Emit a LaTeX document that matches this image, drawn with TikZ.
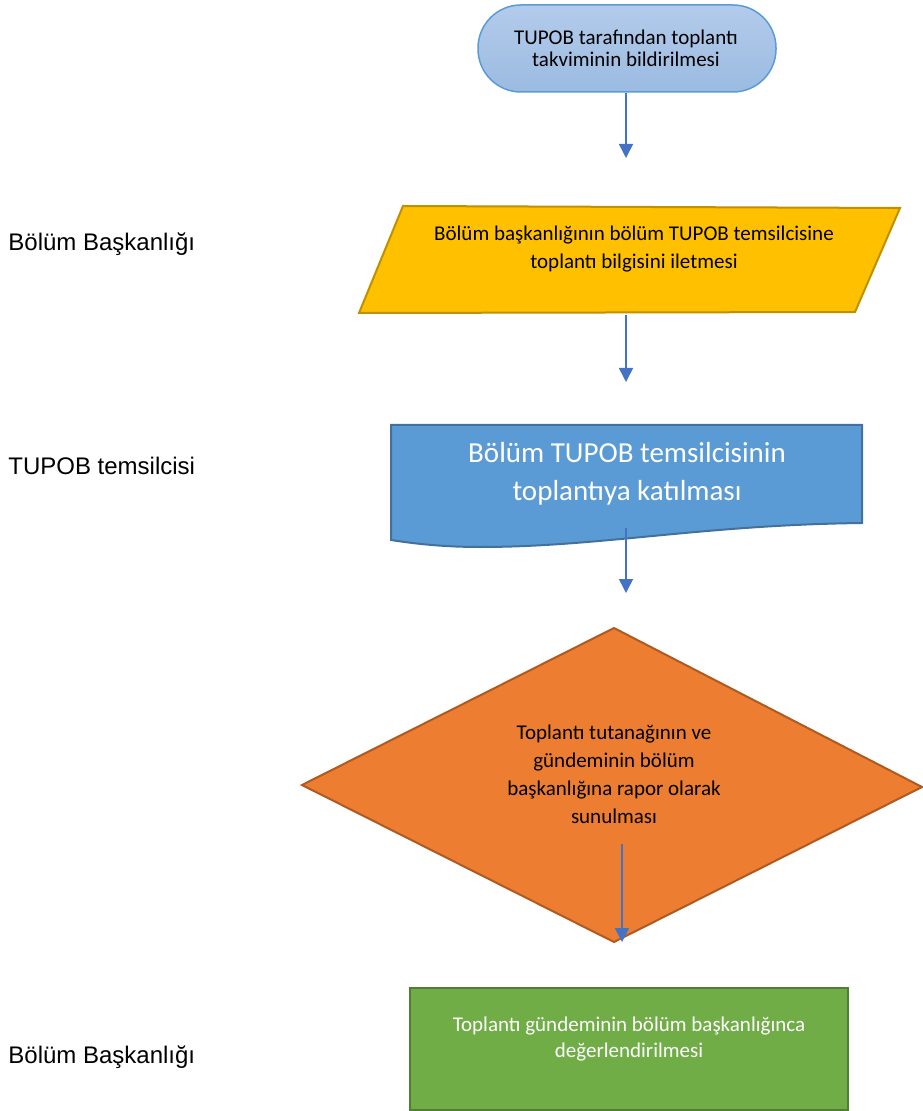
\documentclass[tikz,border=0pt]{standalone}
\usepackage{fontspec}
\setmainfont{Carlito}
\newfontfamily\labelfont{Liberation Sans}
\usetikzlibrary{arrows.meta}
\definecolor{okmavi}{HTML}{4472C4}
\definecolor{termust}{HTML}{B3CBEB}
\definecolor{termalt}{HTML}{9BBBE1}
\definecolor{termcizgi}{HTML}{5B9BD5}
\definecolor{altin}{HTML}{FFC000}
\definecolor{altincizgi}{HTML}{BF9000}
\definecolor{belgemavi}{HTML}{5B9BD5}
\definecolor{belgecizgi}{HTML}{41719C}
\definecolor{turuncu}{HTML}{ED7D31}
\definecolor{turuncucizgi}{HTML}{AE5A21}
\definecolor{yesil}{HTML}{70AD47}
\definecolor{yesilcizgi}{HTML}{507E32}
\tikzset{
  akis/.style={draw=okmavi, line width=0.75pt, -{Triangle[width=7pt,length=7pt]}},
  adimyazi/.style={align=center, inner sep=0pt, font=\fontsize{10.5}{14}\selectfont},
  birimyazi/.style={anchor=west, inner sep=0pt, font=\labelfont\fontsize{12}{14}\selectfont}
}

\begin{document}
\begin{tikzpicture}[x=0.5pt, y=-0.5pt]
		\useasboundingbox (0,0) rectangle (922,1111);
		%%%%% START %%%%%
		
		\draw[draw=termcizgi, line width=0.75pt, top color=termust, bottom color=termalt, rounded corners=21.5pt] (478,5) rectangle (776,92);
		\node[adimyazi, font=\fontsize{10.5}{11}\selectfont] (takvim) at (626,48) {TUPOB tarafından toplantı\\takviminin bildirilmesi};
		
		\draw[draw=altincizgi, line width=1pt, fill=altin] (403,206) -- (900,208) -- (855,312) -- (359,313) -- cycle;
		\node[adimyazi] (iletim) at (634,249) {Bölüm başkanlığının bölüm TUPOB temsilcisine\\toplantı bilgisini iletmesi};
		
		\draw[draw=belgecizgi, line width=1pt, fill=belgemavi] (391,425) -- (862,425) -- (862,523) .. controls (700,525) and (600,547) .. (480,547) .. controls (440,547) and (410,543) .. (391,540) -- cycle;
		\node[adimyazi, text=white, font=\fontsize{14.5}{19}\selectfont] (katilim) at (627,474) {Bölüm TUPOB temsilcisinin\\toplantıya katılması};
		
		\draw[draw=turuncucizgi, line width=1pt, fill=turuncu] (614,628) -- (922,787) -- (614,942) -- (302,785) -- cycle;
		\node[adimyazi] (rapor) at (614,774) {Toplantı tutanağının ve\\gündeminin bölüm\\başkanlığına rapor olarak\\sunulması};
		
		\draw[draw=yesilcizgi, line width=1pt, fill=yesil] (410,988) rectangle (848,1110);
		\node[adimyazi, text=white, font=\fontsize{10.5}{13}\selectfont] (degerlendirme) at (629,1039) {Toplantı gündeminin bölüm başkanlığınca\\değerlendirilmesi};
		
		% birimler
		\node[birimyazi] (birim1) at (8,244) {Bölüm Başkanlığı};
		\node[birimyazi] (birim2) at (8,466) {TUPOB temsilcisi};
		\node[birimyazi] (birim3) at (8,1057) {Bölüm Başkanlığı};
		
		% oklar
		\coordinate (ok1a) at (626,93);
		\coordinate (ok1b) at (626,158);
		\coordinate (ok2a) at (626,315);
		\coordinate (ok2b) at (626,382);
		\coordinate (ok3a) at (626,528);
		\coordinate (ok3b) at (626,593);
		\coordinate (ok4a) at (622,844);
		\coordinate (ok4b) at (622,942);
		\draw[akis] (ok1a) -- (ok1b);
		\draw[akis] (ok2a) -- (ok2b);
		\draw[akis] (ok3a) -- (ok3b);
		\draw[akis] (ok4a) -- (ok4b);
		
		%%%%% END %%%%%
	\end{tikzpicture}
\end{document}
